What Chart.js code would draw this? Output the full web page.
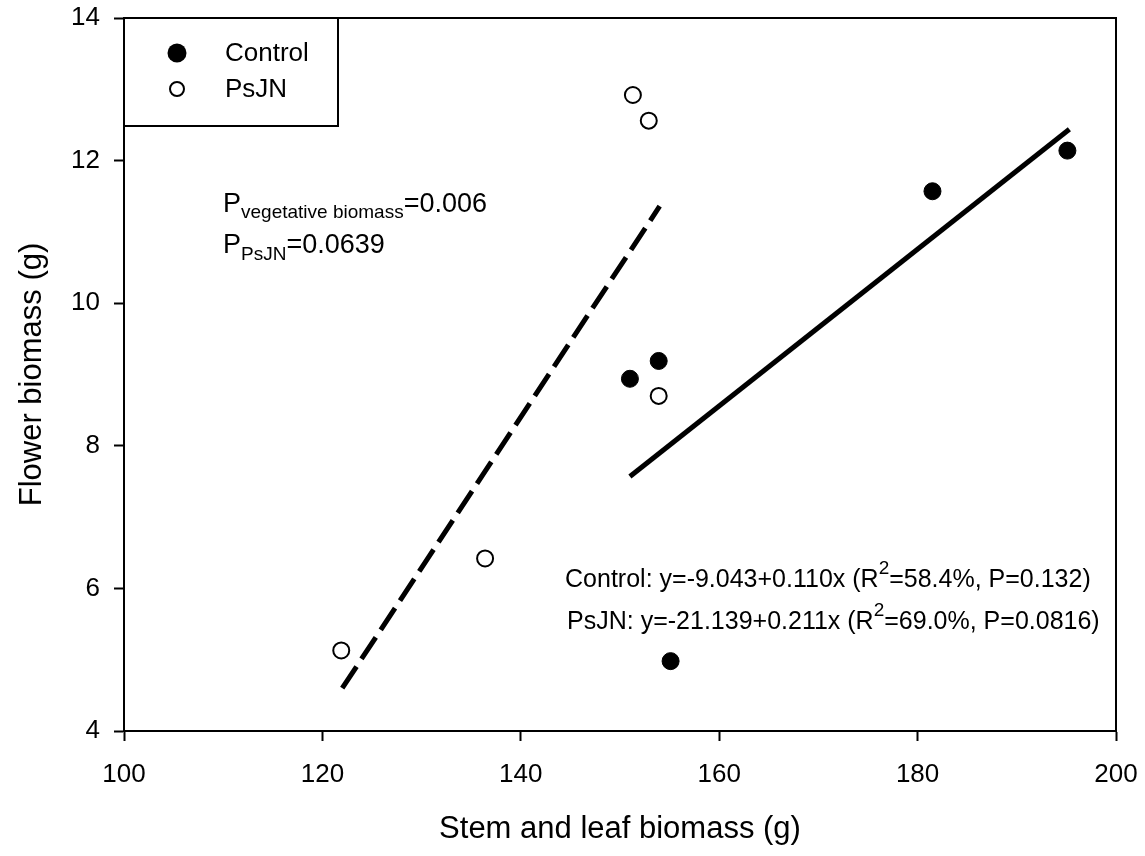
<!DOCTYPE html>
<html lang="en">
<head>
  <meta charset="utf-8"/>
  <title>Flower biomass vs stem and leaf biomass</title>
  <script src="https://cdn.jsdelivr.net/npm/chart.js@4.4.1/dist/chart.umd.min.js"></script>
  <style>
    html, body { margin: 0; padding: 0; background: #fff; }
  </style>
</head>
<body>
  <canvas id="myChart" width="1145" height="856"></canvas>
  <script>
    // values
    var controlX = [151.0, 153.9, 155.1, 181.5, 195.1];
    var controlY = [8.94, 9.19, 4.98, 11.57, 12.14];
    var psjnX = [121.9, 136.4, 151.3, 152.9, 153.9];
    var psjnY = [5.13, 6.42, 12.92, 12.56, 8.70];

    // end points of the two fitted lines
    var controlFitX = [151.0, 195.3];
    var controlFitY = [7.57, 12.44];
    var psjnFitX = [122.0, 154.0];
    var psjnFitY = [4.60, 11.36];

    var xTicks = [100, 120, 140, 160, 180, 200];
    var yTicks = [4, 6, 8, 10, 12, 14];

    var FONT = '"Liberation Sans", Arial, sans-serif';

    function pts(xs, ys) {
      return xs.map(function (x, i) { return { x: x, y: ys[i] }; });
    }

    // draw a line of text made of runs (for sub/superscripts)
    function drawRuns(ctx, x, y, runs) {
      runs.forEach(function (r) {
        ctx.font = r.size + 'px ' + FONT;
        ctx.fillText(r.t, x, y + (r.dy || 0));
        x += ctx.measureText(r.t).width;
      });
    }

    var framePlugin = {
      id: 'frame',
      afterDraw: function (chart) {
        var ctx = chart.ctx;
        var a = chart.chartArea;
        var xs = chart.scales.x, ys = chart.scales.y;
        ctx.save();
        ctx.strokeStyle = '#000';
        ctx.lineWidth = 2;
        // top and right side of the box
        ctx.beginPath();
        ctx.moveTo(a.left, a.top);
        ctx.lineTo(a.right, a.top);
        ctx.lineTo(a.right, a.bottom);
        ctx.stroke();

        // legend box in the top left corner
        ctx.strokeRect(a.left, a.top, 214, 108);
        ctx.fillStyle = '#000';
        ctx.beginPath();
        ctx.arc(a.left + 53, a.top + 35, 9.5, 0, Math.PI * 2);
        ctx.fill();
        ctx.fillStyle = '#fff';
        ctx.lineWidth = 2;
        ctx.beginPath();
        ctx.arc(a.left + 53, a.top + 71, 7, 0, Math.PI * 2);
        ctx.fill();
        ctx.stroke();
        ctx.fillStyle = '#000';
        ctx.textBaseline = 'middle';
        ctx.font = '26px ' + FONT;
        ctx.fillText(chart.data.datasets[0].label, a.left + 101, a.top + 36);
        ctx.fillText(chart.data.datasets[1].label, a.left + 101, a.top + 72);

        // P values and regression equations
        ctx.textBaseline = 'alphabetic';
        drawRuns(ctx, xs.getPixelForValue(109.98), ys.getPixelForValue(11.28), [
          { t: 'P', size: 27 }, { t: 'vegetative biomass', size: 19, dy: 6 }, { t: '=0.006', size: 27 }
        ]);
        drawRuns(ctx, xs.getPixelForValue(109.98), ys.getPixelForValue(10.70), [
          { t: 'P', size: 27 }, { t: 'PsJN', size: 19, dy: 7 }, { t: '=0.0639', size: 27 }
        ]);
        drawRuns(ctx, xs.getPixelForValue(144.46), ys.getPixelForValue(6.02), [
          { t: 'Control: y=-9.043+0.110x (R', size: 25 }, { t: '2', size: 19, dy: -13 },
          { t: '=58.4%, P=0.132)', size: 25 }
        ]);
        drawRuns(ctx, xs.getPixelForValue(144.66), ys.getPixelForValue(5.43), [
          { t: 'PsJN: y=-21.139+0.211x (R', size: 25 }, { t: '2', size: 19, dy: -13 },
          { t: '=69.0%, P=0.0816)', size: 25 }
        ]);
        ctx.restore();
      }
    };

    var ctx = document.getElementById('myChart').getContext('2d');
    var chart = new Chart(ctx, {
      type: 'scatter',
      data: {
        datasets: [{
          label: 'Control',
          data: pts(controlX, controlY),
          backgroundColor: '#000',
          borderColor: '#000',
          borderWidth: 1,
          pointRadius: 8.5
        }, {
          label: 'PsJN',
          data: pts(psjnX, psjnY),
          backgroundColor: '#fff',
          borderColor: '#000',
          borderWidth: 2,
          pointRadius: 8
        }, {
          label: 'Control fit',
          type: 'line',
          data: pts(controlFitX, controlFitY),
          borderColor: '#000',
          borderWidth: 5,
          pointRadius: 0
        }, {
          label: 'PsJN fit',
          type: 'line',
          data: pts(psjnFitX, psjnFitY),
          borderColor: '#000',
          borderWidth: 5,
          borderDash: [26, 9],
          pointRadius: 0
        }]
      },
      options: {
        responsive: false,
        animation: false,
        layout: { padding: { left: 14, top: 18, right: 29, bottom: 8 } },
        plugins: {
          legend: { display: false },
          tooltip: { enabled: false }
        },
        scales: {
          x: {
            type: 'linear',
            min: 100,
            max: 200,
            afterBuildTicks: function (s) { s.ticks = xTicks.map(function (v) { return { value: v }; }); },
            afterFit: function (s) { s.height = 117; s.paddingLeft = 0; s.paddingRight = 0; },
            grid: { drawOnChartArea: false, tickLength: 10, tickWidth: 2, tickColor: '#000' },
            border: { display: true, color: '#000', width: 2 },
            ticks: { color: '#000', padding: 18, font: { family: FONT, size: 26 } },
            title: {
              display: true,
              text: 'Stem and leaf biomass (g)',
              color: '#000',
              padding: 0,
              font: { family: FONT, size: 31 }
            }
          },
          y: {
            min: 4,
            max: 14,
            afterBuildTicks: function (s) { s.ticks = yTicks.map(function (v) { return { value: v }; }); },
            afterFit: function (s) { s.width = 110; s.paddingTop = 0; s.paddingBottom = 0; },
            grid: { drawOnChartArea: false, tickLength: 10, tickWidth: 2, tickColor: '#000' },
            border: { display: true, color: '#000', width: 2 },
            ticks: { color: '#000', padding: 14, font: { family: FONT, size: 26 } },
            title: {
              display: true,
              text: 'Flower biomass (g)',
              color: '#000',
              padding: 0,
              font: { family: FONT, size: 31 }
            }
          }
        }
      },
      plugins: [framePlugin]
    });
  </script>
</body>
</html>
